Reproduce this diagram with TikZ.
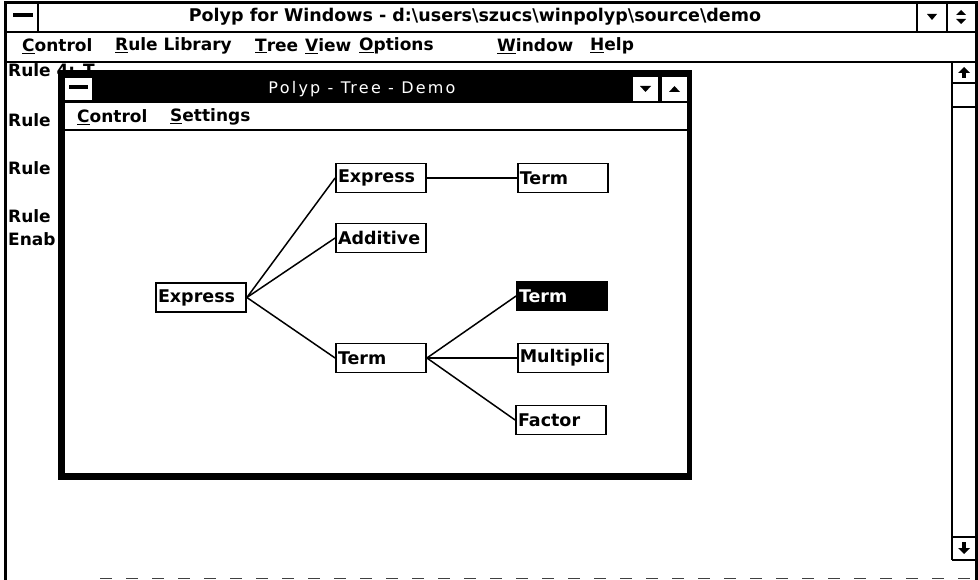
\documentclass[tikz,border=0pt]{standalone}
\usepackage{fontspec}
\setmainfont{DejaVu Sans}
\newfontfamily\captionfont{DejaVu Sans}[LetterSpace=14]
\usetikzlibrary{positioning}

\begin{document}
\begin{tikzpicture}[
        x=1pt, y=-1pt,
        node distance=90pt,
        sysfont/.style={font=\fontsize{17}{19}\selectfont\bfseries},
        menuitem/.style={sysfont, anchor=west, inner sep=0pt},
        treebox/.style={
            draw,
            line width=1.8pt,
            fill=white,
            align=left,
            inner xsep=2pt,
            inner ysep=0pt,
            minimum height=29pt,
            text width=86pt,
            font=\fontsize{17.5}{19}\selectfont\bfseries
        },
        pickedbox/.style={treebox, fill=black, text=white},
        link/.style={line width=1.5pt},
        winborder/.style={line width=3pt},
        rule/.style={line width=1.6pt}
    ]
        \useasboundingbox (0,0) rectangle (978,580);
        \fill[white] (0,0) rectangle (978,580);

        % Janela principal: moldura, barra de titulo e menu
        \draw[winborder] (5,580) -- (5,3) -- (976,3) -- (976,580);
        \draw[line width=1pt, black!75, dash pattern=on 12pt off 14pt] (100,578) -- (974,578);
        \draw[rule] (5,32) -- (976,32);
        \draw[rule] (38,3) -- (38,32);
        \fill (13,13) rectangle (33,17);
        \draw[rule] (917,3) -- (917,32);
        \draw[rule] (947,3) -- (947,32);
        \fill (927,14) -- (937,14) -- (932,20) -- cycle;
        \fill (956,15) -- (966,15) -- (961,10) -- cycle;
        \fill (956,19) -- (966,19) -- (961,24) -- cycle;
        \node[sysfont, font=\fontsize{17.5}{19}\selectfont\bfseries] (maintitle) at (475,17) {Polyp for Windows - d:\textbackslash users\textbackslash szucs\textbackslash winpolyp\textbackslash source\textbackslash demo};

        \node[menuitem] (mcontrol) at (22,46) {\underline{C}ontrol};
        \node[menuitem] (mlibrary) at (115,46) {\underline{R}ule Library};
        \node[menuitem] (mtree) at (255,46) {\underline{T}ree};
        \node[menuitem] (mview) at (305,46) {\underline{V}iew};
        \node[menuitem] (moptions) at (359,46) {\underline{O}ptions};
        \node[menuitem] (mwindow) at (497,46) {\underline{W}indow};
        \node[menuitem] (mhelp) at (590,46) {\underline{H}elp};
        \draw[rule] (5,62) -- (976,62);

        % Barra de rolagem
        \draw[rule] (952,62) -- (952,560);
        \draw[line width=2.5pt] (952,83) -- (976,83);
        \draw[line width=2.5pt] (952,107) -- (976,107);
        \draw[line width=2.5pt] (952,537) -- (976,537);
        \draw[line width=2.5pt] (952,560) -- (976,560);
        \fill (958,73) -- (964,67) -- (970,73) -- cycle;
        \fill (962,73) rectangle (966,78);
        \fill (958,548) -- (964,554) -- (970,548) -- cycle;
        \fill (962,542) rectangle (966,548);

        % Texto da area do cliente
        \node[menuitem] (rule1) at (8,70) {Rule 4: T};
        \node[menuitem] (rule2) at (8,120) {Rule};
        \node[menuitem] (rule3) at (8,168) {Rule};
        \node[menuitem] (rule4) at (8,216) {Rule};
        \node[menuitem] (enab) at (8,239) {Enab};

        % Janela da arvore
        \fill[white] (58,70) rectangle (692,480);
        \fill (58,70) rectangle (692,103);
        \fill[white] (65,78) rectangle (92,100);
        \fill (69,85) rectangle (88,89);
        \fill[white] (633,77) rectangle (658,101);
        \fill[white] (662,77) rectangle (687,101);
        \fill (640,86) -- (651,86) -- (645.5,92) -- cycle;
        \fill (669,92) -- (680,92) -- (674.5,86) -- cycle;
        \node[text=white, font=\fontsize{16}{18}\selectfont\captionfont] (treetitle) at (362,89) {Polyp - Tree - Demo};
        \fill (58,70) rectangle (65,480);
        \fill (687,70) rectangle (692,480);
        \fill (58,473) rectangle (692,480);
        \node[menuitem] (tcontrol) at (77,117) {\underline{C}ontrol};
        \node[menuitem] (tsettings) at (170,117) {\underline{S}ettings};
        \draw[line width=2pt] (65,130) -- (687,130);

        % Nos da arvore
        \node[treebox] (root) at (201,297.5) {Express};
        \node[treebox] (expr) at (381,178) {Express};
        \node[treebox, right=of expr] (exprterm) {Term};
        \node[treebox] (additive) at (381,238) {Additive};
        \node[treebox] (term) at (381,358) {Term};
        \node[pickedbox] (picked) at (562,296) {Term};
        \node[treebox, right=of term] (multiplic) {Multiplic};
        \node[treebox] (factor) at (561,420) {Factor};

        % Ligacoes
        \draw[link] (root.east) -- (expr.west);
        \draw[link] (root.east) -- (additive.west);
        \draw[link] (root.east) -- (term.west);
        \draw[link] (expr.east) -- (exprterm.west);
        \draw[link] (term.east) -- (picked.west);
        \draw[link] (term.east) -- (multiplic.west);
        \draw[link] (term.east) -- (factor.west);
    \end{tikzpicture}
\end{document}
